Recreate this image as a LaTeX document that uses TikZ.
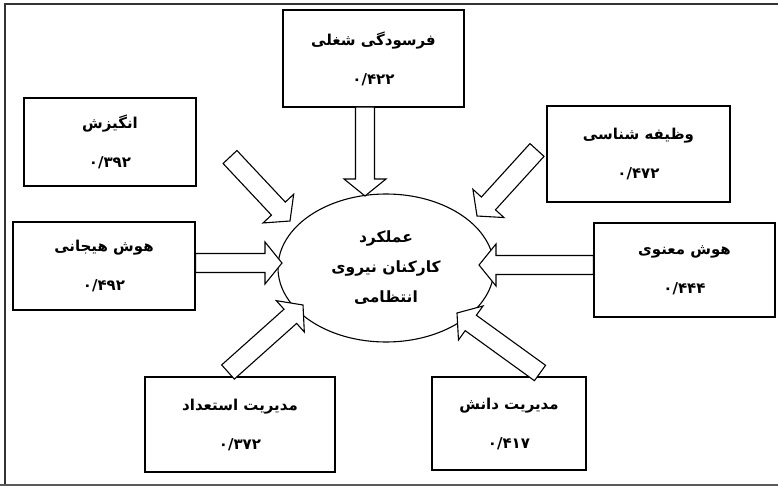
\documentclass[tikz,border=0pt]{standalone}
\usepackage{fontspec}
\newfontfamily\arabicfont[Script=Arabic]{DejaVu Sans}
\TeXXeTstate=1
\usetikzlibrary{calc,shapes.geometric}
\tikzset{
  box/.style={draw=black, line width=1.3pt, fill=white, inner sep=0pt, align=center,
    font=\arabicfont\bfseries\fontsize{15}{39}\selectfont},
  perfnode/.style={draw=black, line width=1.1pt, ellipse, inner sep=0pt, align=center,
    minimum width=216pt, minimum height=148pt,
    font=\arabicfont\bfseries\fontsize{15.5}{30}\selectfont},
  barrow/.style={draw=black, line width=1.1pt, fill=white, line join=miter},
  frame/.style={draw=black!80, line width=2pt}
}
\newcommand{\blockarrow}[2]{%
  \coordinate (hb) at ($(#2)!17pt!(#1)$);
  \draw[barrow] ($(#1)!9.5pt!90:(#2)$) -- ($(hb)!9.5pt!90:(#2)$) -- ($(hb)!21pt!90:(#2)$) -- (#2)
    -- ($(hb)!21pt!-90:(#2)$) -- ($(hb)!9.5pt!-90:(#2)$) -- ($(#1)!9.5pt!-90:(#2)$) -- cycle;}
\begin{document}
\begin{tikzpicture}[x=1pt,y=-1pt]
\useasboundingbox (0,0) rectangle (778,486);
\fill[white] (0,0) rectangle (778,486);
\draw[frame] (5,486) -- (5,4) -- (778,4);
\draw[draw=black!65, line width=1.2pt] (0,485) -- (778,485);

\node[box, minimum width=181pt, minimum height=97pt] (fars) at (373.5,58.5) {\beginR فرسودگی شغلی\endR\\۰/۴۲۲};
\node[box, minimum width=172pt, minimum height=88pt] (ins) at (110,142) {\beginR انگیزش\endR\\۰/۳۹۲};
\node[box, minimum width=183pt, minimum height=96pt] (vaz) at (638.5,154) {\beginR وظیفه شناسی\endR\\۰/۴۷۲};
\node[box, minimum width=182pt, minimum height=88pt] (hij) at (104,266) {\beginR هوش هیجانی\endR\\۰/۴۹۲};
\node[box, minimum width=181pt, minimum height=94pt] (man) at (684.5,270) {\beginR هوش معنوی\endR\\۰/۴۴۴};
\node[box, minimum width=190pt, minimum height=95pt] (est) at (240,424.5) {\beginR مدیریت استعداد\endR\\۰/۳۷۲};
\node[box, minimum width=154pt, minimum height=93pt] (dan) at (509,423.5) {\beginR مدیریت دانش\endR\\۰/۴۱۷};

\node[perfnode] (perf) at (386,268) {\beginR عملکرد\endR\\\beginR کارکنان نیروی\endR\\\beginR انتظامی\endR};

\coordinate (a1s) at (365,107);  \coordinate (a1e) at (365,196);
\coordinate (a2s) at (230,157);  \coordinate (a2e) at (290,221);
\coordinate (a3s) at (537,150);  \coordinate (a3e) at (477,216);
\coordinate (a4s) at (hij.east |- 0,263); \coordinate (a4e) at (282,263);
\coordinate (a5s) at (man.west |- 0,265); \coordinate (a5e) at (479,265);
\coordinate (a6s) at (228,372);  \coordinate (a6e) at (303,305);
\coordinate (a7s) at (540,373);  \coordinate (a7e) at (457,313);

\blockarrow{a1s}{a1e}
\blockarrow{a2s}{a2e}
\blockarrow{a3s}{a3e}
\blockarrow{a4s}{a4e}
\blockarrow{a5s}{a5e}
\blockarrow{a6s}{a6e}
\blockarrow{a7s}{a7e}
\end{tikzpicture}
\end{document}
